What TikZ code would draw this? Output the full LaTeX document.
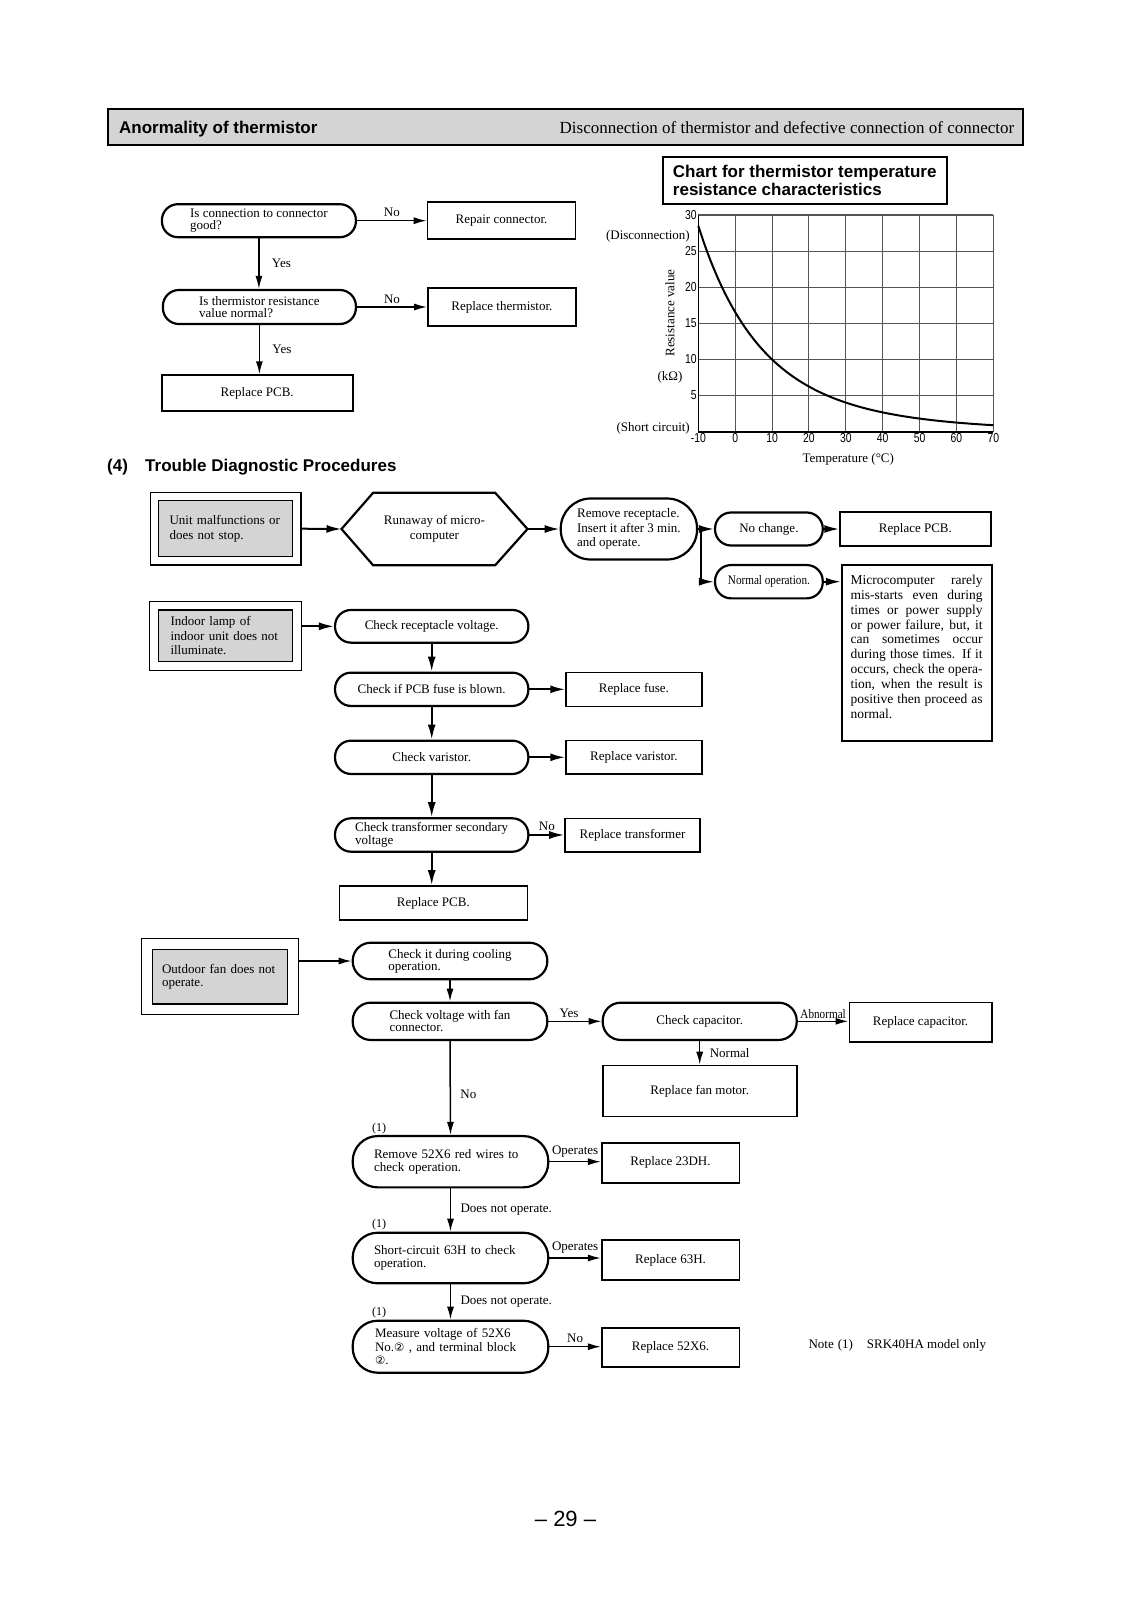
\documentclass[tikz,border=0pt]{standalone}
\usepackage{fontspec}
\setmainfont{Liberation Serif}
\newfontfamily\headsans{Liberation Sans}
\newfontfamily\condserif[FakeStretch=0.86]{Liberation Serif}
\newfontfamily\ticksans[FakeStretch=0.8]{Liberation Sans}
\newfontfamily\circfont{DejaVu Sans}
\usetikzlibrary{arrows.meta,fit}

\newcommand{\bodyfont}{\fontsize{13}{14.5}\selectfont}
\newcommand{\tightfont}{\fontsize{13}{12.5}\selectfont}
\newcommand{\headfont}{\headsans\bfseries\fontsize{17}{18.3}\selectfont}
\newcommand{\condfont}{\condserif\fontsize{13}{14}\selectfont}
\newcommand{\tickfont}{\ticksans\fontsize{13}{13}\selectfont}
\newcommand{\jline}[1]{\makebox[\hsize][s]{#1}}
\newcommand{\circtwo}{{\circfont\fontsize{11.5}{11.5}\selectfont ②}}

\definecolor{boxgray}{RGB}{212,212,212}
\definecolor{gridgray}{RGB}{85,85,85}

\tikzset{
  every node/.style={font=\bodyfont},
  stadium/.style={draw, line width=2.2pt, rounded corners=#1, inner sep=2pt},
  stadium/.default=16pt,
  resultbox/.style={draw, line width=1.6pt, inner sep=2pt},
  graybox/.style={draw, fill=boxgray, line width=1.2pt, align=left, inner ysep=3pt},
  framebox/.style={draw, line width=1.4pt},
  flow/.style={-{Latex[length=13pt,width=7pt]}, line width=1.5pt},
  flowthick/.style={-{Latex[length=15pt,width=8pt]}, line width=2pt},
}

\begin{document}
\begin{tikzpicture}[x=1pt, y=-1pt]
  \useasboundingbox (0,0) rectangle (1131,1600);

  % Header bar
  \node[draw, line width=2pt, fill=boxgray, minimum width=915.5pt, minimum height=36pt] (header) at (565.7,127) {};
  \node[anchor=west, inner sep=0pt, font=\headfont] (hdrtitle) at ([xshift=12pt,yshift=-2pt]header.west) {Anormality of thermistor};
  \node[anchor=east, inner sep=0pt, font=\fontsize{17}{18}\selectfont] (hdrnote) at ([xshift=-10pt,yshift=-1pt]header.east) {Disconnection of thermistor and defective connection of connector};

  % Thermistor check
  \node[stadium, minimum width=194pt, minimum height=33pt, align=left, font=\tightfont] (conn) at (258.9,220.7) {Is connection to connector\\good?};
  \node[resultbox, minimum width=148pt, minimum height=37pt] (repconn) at (501.5,220.7) {Repair connector.};
  \node[stadium, minimum width=193pt, minimum height=34pt, align=left, font=\tightfont] (therm) at (259.4,307) {Is thermistor resistance\\value normal?};
  \node[resultbox, minimum width=148pt, minimum height=37.7pt] (reptherm) at (501.9,307) {Replace thermistor.};
  \node[resultbox, minimum width=191pt, minimum height=35.7pt] (pcbA) at (257.2,392.9) {Replace PCB.};

  \draw[flow] (conn.east) -- node[above, inner sep=3pt] (noA) {No} (repconn.west);
  \draw[flow] (therm.east) -- node[above, inner sep=3pt] (noB) {No} (reptherm.west);
  \draw[flow] (conn.south) -- node[right=9pt] (yesA) {Yes} (conn.south |- therm.north);
  \draw[flow] (therm.south) -- node[right=9pt] (yesB) {Yes} (therm.south |- pcbA.north);

  % Resistance chart
  \node[draw, line width=2pt, minimum width=284pt, minimum height=46.7pt, inner xsep=9pt, align=left, font=\headfont] (charttitle) at (804.7,180.7) {Chart for thermistor temperature\\resistance characteristics};
  \begin{scope}[shift={(698.3,431.7)}, x=3.6875pt, y=7.2233pt]
    \foreach \t in {10,20,...,80}
      \draw[gridgray, line width=1.1pt] (\t,0) -- (\t,30);
    \foreach \r in {5,10,...,30}
      \draw[gridgray, line width=1.1pt] (0,\r) -- (80,\r);
    \draw[line width=1.6pt] (0,30) -- (0,0) -- (80,0);
    \foreach \r in {5,10,...,30}
      \node[anchor=east, inner sep=1.5pt, font=\tickfont] (ry\r) at (0,\r) {\r};
    \foreach \t [evaluate=\t as \lab using int(\t-10)] in {0,10,...,80}
      \node[anchor=north, inner sep=2pt, font=\tickfont] (tx\t) at (\t,0) {\lab};
    % R(T) curve
    \draw[line width=2pt] plot[domain=-10:70, samples=60, smooth] ({\x+10}, {10*exp(13.777*(10-\x)/(\x+273.15))});
  \end{scope}
  \node[anchor=east, inner sep=0pt] (disconn) at (690,236) {(Disconnection)};
  \node[rotate=90, inner sep=0pt] (resval) at (670,313) {Resistance value};
  \node[inner sep=0pt] (kohm) at (670,377.7) {(kΩ)};
  \node[anchor=east, inner sep=0pt] (shortc) at (690,428.3) {(Short circuit)};
  \node[inner sep=0pt] (tempaxis) at (848.3,459) {Temperature (°C)};

  % (4) Trouble diagnostic procedures
  \node[anchor=west, inner sep=0pt, font=\headfont] (secnum) at (107,467.3) {(4)};
  \node[anchor=west, inner sep=0pt, font=\headfont] (sectitle) at (145,467.3) {Trouble Diagnostic Procedures};

  % Unit malfunctions
  \node[graybox, minimum width=134.4pt, minimum height=56pt, text width=112pt, inner xsep=11pt] (unitmal) at (225.5,528.7) {Unit malfunctions or\\does not stop.};
  \node[framebox, fit=(unitmal), inner sep=7.5pt] (unitframe) {};
  \node[minimum width=185.6pt, minimum height=72pt, align=center, inner sep=0pt] (runaway) at (434.5,529) {Runaway of micro-\\computer};
  \draw[line width=2.2pt] (runaway.west) -- ([xshift=31.6pt]runaway.north west) -- ([xshift=-32.3pt]runaway.north east)
    -- (runaway.east) -- ([xshift=-32.3pt]runaway.south east) -- ([xshift=31.6pt]runaway.south west) -- cycle;
  \node[stadium=30pt, minimum width=136.3pt, minimum height=61pt, align=left] (remove) at (628.9,529) {Remove receptacle.\\Insert it after 3 min.\\and operate.};
  \node[stadium, minimum width=107.7pt, minimum height=33pt] (nochange) at (768.9,529) {No change.};
  \node[stadium, minimum width=107.7pt, minimum height=33.3pt, font=\condfont] (normalop) at (768.9,581.7) {Normal operation.};
  \node[resultbox, minimum width=150.7pt, minimum height=34pt] (pcbB) at (915.4,529) {Replace PCB.};
  \node[resultbox, minimum width=150pt, minimum height=176pt, inner sep=0pt, font=\fontsize{13.5}{14.9}\selectfont] (rarely) at (916.7,653) {%
    \begin{minipage}[t][156pt][t]{132pt}
      \jline{Microcomputer rarely}\\
      \jline{mis-starts even during}\\
      \jline{times or power supply}\\
      \jline{or power failure, but, it}\\
      \jline{can sometimes occur}\\
      \jline{during those times. If it}\\
      \jline{occurs, check the opera-}\\
      \jline{tion, when the result is}\\
      \jline{positive then proceed as}\\
      normal.
    \end{minipage}};
  \coordinate (split) at (701,529);

  \draw[flowthick] (unitframe.east) -- (runaway.west);
  \draw[flowthick] (runaway.east) -- (remove.west);
  \draw[line width=2pt] (remove.east) -- (split);
  \draw[flowthick] (split) -- (nochange.west);
  \draw[flowthick] (split) |- (normalop.west);
  \draw[flowthick] (nochange.east) -- (pcbB.west);
  \draw[flowthick] (normalop.east) -- (normalop.east -| rarely.west);

  % Indoor lamp
  \node[graybox, minimum width=134.4pt, minimum height=51.7pt, text width=110pt, inner xsep=12.2pt] (indoor) at (225.5,635.8) {Indoor lamp of\\indoor unit does not\\illuminate.};
  \node[framebox, fit=(indoor), inner sep=8pt] (indoorframe) {};
  \node[stadium, minimum width=193.3pt, minimum height=32.7pt] (recept) at (431.7,626.3) {Check receptacle voltage.};
  \node[stadium, minimum width=193.3pt, minimum height=33.3pt] (fusechk) at (431.7,689.3) {Check if PCB fuse is blown.};
  \node[resultbox, minimum width=135.7pt, minimum height=34pt] (repfuse) at (633.9,689.3) {Replace fuse.};
  \node[stadium, minimum width=193.3pt, minimum height=33.3pt] (varchk) at (431.7,757.3) {Check varistor.};
  \node[resultbox, minimum width=135.7pt, minimum height=33.3pt] (repvar) at (633.9,757.3) {Replace varistor.};
  \node[stadium, minimum width=193.3pt, minimum height=33.4pt, align=left, font=\tightfont] (transchk) at (431.7,835) {Check transformer secondary\\voltage};
  \node[resultbox, minimum width=135pt, minimum height=33.4pt] (reptrans) at (632.5,835) {Replace transformer};
  \node[resultbox, minimum width=188pt, minimum height=34pt] (pcbC) at (433.3,903) {Replace PCB.};

  \draw[flowthick] (recept.west -| indoorframe.east) -- (recept.west);
  \draw[flowthick] (recept.south) -- (fusechk.north);
  \draw[flowthick] (fusechk.east) -- (repfuse.west);
  \draw[flowthick] (fusechk.south) -- (varchk.north);
  \draw[flowthick] (varchk.east) -- (repvar.west);
  \draw[flowthick] (varchk.south) -- (transchk.north);
  \draw[flowthick] (transchk.east) -- node[above, inner sep=3pt] (noD) {No} (reptrans.west);
  \draw[flowthick] (transchk.south) -- (transchk.south |- pcbC.north);

  % Outdoor fan
  \node[graybox, minimum width=135.4pt, minimum height=54.7pt, text width=116pt, inner xsep=9.7pt, font=\fontsize{13}{13.5}\selectfont] (outfan) at (220,976.7) {Outdoor fan does not\\operate.};
  \node[framebox, fit=(outfan), inner sep=10pt] (outfanframe) {};
  \node[stadium=18pt, minimum width=194.6pt, minimum height=36.6pt, align=left, font=\fontsize{13}{12}\selectfont] (cooling) at (450,961) {Check it during cooling\\operation.};
  \node[stadium=18pt, minimum width=194.6pt, minimum height=37.3pt, align=left, font=\fontsize{13}{12}\selectfont] (fanconn) at (450,1021.3) {Check voltage with fan\\connector.};
  \node[stadium=18pt, minimum width=194pt, minimum height=37.3pt] (capchk) at (699.7,1021.3) {Check capacitor.};
  \node[resultbox, minimum width=142.4pt, minimum height=39.4pt] (repcap) at (920.5,1022.3) {Replace capacitor.};
  \node[resultbox, minimum width=194pt, minimum height=51pt] (fanmotor) at (699.7,1091) {Replace fan motor.};
  \node[stadium=25pt, minimum width=195.6pt, minimum height=51.3pt, text width=153pt, align=left, font=\fontsize{13}{13.3}\selectfont] (remove52) at (450.5,1161.7) {\jline{Remove 52X6 red wires to}\\check operation.};
  \node[resultbox, minimum width=137.6pt, minimum height=40pt] (rep23dh) at (670.5,1162.7) {Replace 23DH.};
  \node[stadium=25pt, minimum width=195.6pt, minimum height=50.6pt, text width=153pt, align=left, font=\fontsize{13}{13.3}\selectfont] (short63) at (450.5,1258) {\jline{Short-circuit 63H to check}\\operation.};
  \node[resultbox, minimum width=137.6pt, minimum height=40pt] (rep63h) at (670.5,1260) {Replace 63H.};
  \node[stadium=25pt, minimum width=195.6pt, minimum height=52pt, text width=151pt, align=left, font=\fontsize{13}{13.3}\selectfont] (measure) at (450.5,1346.7) {Measure voltage of 52X6\\\jline{No.\circtwo\ , and terminal block}\\\circtwo.};
  \node[resultbox, minimum width=137.6pt, minimum height=39pt] (rep52x6) at (670.5,1347.2) {Replace 52X6.};
  \node[inner sep=0pt, font=\fontsize{12}{12}\selectfont] (modA) at (379,1128.3) {(1)};
  \node[inner sep=0pt, font=\fontsize{12}{12}\selectfont] (modB) at (379,1225) {(1)};
  \node[inner sep=0pt, font=\fontsize{12}{12}\selectfont] (modC) at (379,1312.7) {(1)};

  \draw[flow] (cooling.west -| outfanframe.east) -- (cooling.west);
  \draw[flow] (cooling.south) -- (fanconn.north);
  \draw[flow] (fanconn.east) -- node[above, inner sep=3pt, xshift=-6pt] (yesC) {Yes} (capchk.west);
  \draw[flow] (capchk.east) -- node[above, inner sep=2pt, font=\condfont] (abnC) {Abnormal} (capchk.east -| repcap.west);
  \draw[flow] (capchk.south) -- node[right=6pt] (normC) {Normal} (fanmotor.north);
  \draw[flow] (fanconn.south) -- node[right=6pt, pos=0.57] (noC) {No} (remove52.north);
  \draw[flow] (remove52.east) -- node[above, inner sep=4pt] (opA) {Operates} (remove52.east -| rep23dh.west);
  \draw[flow] (remove52.south) -- node[right=6pt, pos=0.5] (notA) {Does not operate.} (short63.north);
  \draw[flow] (short63.east) -- node[above, inner sep=4pt] (opB) {Operates} (short63.east -| rep63h.west);
  \draw[flow] (short63.south) -- node[right=6pt, pos=0.5] (notB) {Does not operate.} (measure.north);
  \draw[flow] (measure.east) -- node[above, inner sep=3pt] (noE) {No} (measure.east -| rep52x6.west);

  \node[anchor=west, inner sep=0pt] (note) at (808.3,1345) {Note\hspace{4pt}(1)\hspace{14pt}SRK40HA model only};

  % Page number
  \node[font=\headsans\fontsize{22}{22}\selectfont] (pageno) at (565.5,1519) {– 29 –};
\end{tikzpicture}
\end{document}
